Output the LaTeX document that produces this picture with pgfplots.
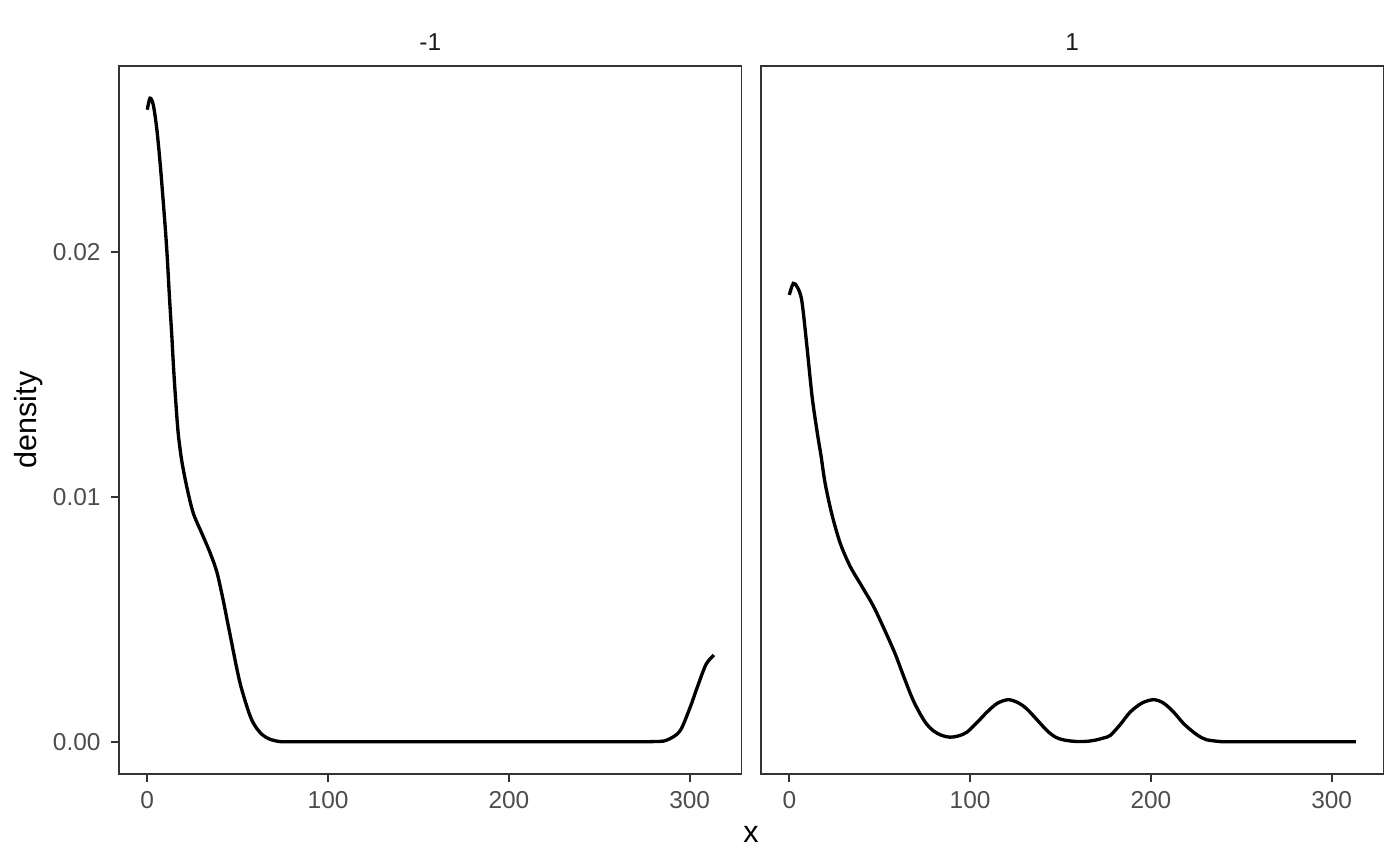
\documentclass[border=0pt]{standalone}
\usepackage{pgfplots}
\pgfplotsset{compat=1.18}
\usepackage{fontspec}
\setmainfont{Liberation Sans}
\definecolor{tickgrey}{HTML}{4D4D4D}
\definecolor{bordergrey}{HTML}{333333}
\definecolor{stripgrey}{HTML}{1A1A1A}

\pgfplotstableread{
x d
0 0.0258
1.5 0.02627
3.3 0.0260
5.2 0.02505
7.0 0.0237
8.8 0.02207
10.7 0.02018
12.3 0.0181
13.5 0.01665
14.5 0.0153
15.7 0.01394
17.1 0.01259
19.0 0.0115
21.8 0.01042
25.4 0.00934
30.1 0.00852
34.7 0.00772
38.4 0.00695
41.7 0.00588
45.7 0.0044
51.2 0.00243
56.8 0.00107
60.5 0.00055
64.1 0.00026
68 0.0001
73.3 0.00001
80 0
120 0
160 0
200 0
240 0
270 0
280 0.00001
287.0 0.00006
294.4 0.00042
299.9 0.00134
304.5 0.00229
309.1 0.00317
313.4 0.00354
}\leftdata

\pgfplotstableread{
x d
0 0.01824
2.2 0.01871
4.5 0.01855
6.9 0.01801
9.6 0.01625
12.6 0.0141
15.5 0.0126
17.5 0.0117
19.8 0.01056
23.5 0.0093
28.1 0.00812
33.6 0.00717
40.1 0.00635
46.5 0.00554
53.0 0.00452
58.5 0.00360
63.1 0.0027
68 0.00178
72.3 0.00115
76 0.00072
79.7 0.00045
84 0.00027
88.9 0.00019
93.5 0.00024
98.2 0.00039
104 0.0008
109.3 0.00121
115 0.00157
121.2 0.00172
127 0.00158
131.4 0.00134
137 0.0009
142.5 0.00046
147 0.0002
151 0.00009
156 0.00003
160.9 0.00001
166 0.00003
170 0.00008
174 0.00016
177.5 0.00026
183 0.0007
188.5 0.00121
195 0.00158
201.5 0.00172
207 0.00158
212.6 0.00121
218 0.00075
223.6 0.00039
228 0.00017
231 0.00008
238.4 0.00001
245 0
280 0
313.4 0
}\rightdata

\pgfplotsset{
  panel/.style={
    scale only axis,
    width=224.1pt, height=254.88pt,
    xmin=-15.65, xmax=328.65,
    ymin=-0.001314, ymax=0.027584,
    axis line style={color=bordergrey, line width=0.55pt},
    tick align=outside,
    major tick length=2.75pt,
    major tick style={color=bordergrey, line width=0.75pt},
    xtick pos=bottom, ytick pos=left,
    xtick={0,100,200,300},
    xticklabels={0,100,200,300},
    ticklabel style={font=\fontsize{8.8}{10}\selectfont, text=tickgrey},
    xticklabel style={inner sep=0pt, yshift=-3.4pt},
    yticklabel style={inner sep=0pt, xshift=-3.7pt},
    scaled ticks=false,
    title style={at={(axis description cs:0.5,1)}, anchor=center, yshift=2.6pt,
      font=\fontsize{8.8}{10}\selectfont, text=stripgrey},
    clip=true,
  }
}

\begin{document}
\begin{tikzpicture}
\useasboundingbox (0,0) rectangle (504pt,311.76pt);
\begin{axis}[panel,
  at={(42.84pt,33.12pt)}, anchor=south west,
  ytick={0,0.01,0.02},
  yticklabels={0.00,0.01,0.02},
  title={-1},
  ylabel={density},
  ylabel style={at={([xshift=-32.5pt]axis description cs:0,0.5)}, anchor=center, rotate=0,
    font=\fontsize{11}{13}\selectfont, text=black},
]
\addplot[black, line width=1.2pt, smooth, tension=0.5] table[x=x,y=d] {\leftdata};
\end{axis}
\begin{axis}[panel,
  at={(273.96pt,33.12pt)}, anchor=south west,
  ytick=\empty,
  title={1},
]
\addplot[black, line width=1.2pt, smooth, tension=0.5] table[x=x,y=d] {\rightdata};
\end{axis}
\node[font=\fontsize{11}{13}\selectfont, text=black] at (270.36pt,11.4pt) {x};
\end{tikzpicture}
\end{document}
